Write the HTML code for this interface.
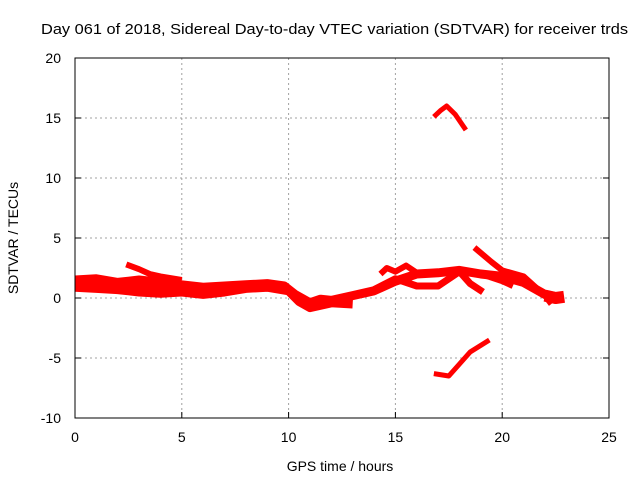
<!DOCTYPE html>
<html><head><meta charset="utf-8"><style>
body{margin:0;background:#fff;}
svg{display:block;font-family:"Liberation Sans",sans-serif;}
</style></head><body>
<svg id="chart" width="640" height="480">
<text x="41" y="34" textLength="587" lengthAdjust="spacingAndGlyphs" font-size="15">Day 061 of 2018, Sidereal Day-to-day VTEC variation (SDTVAR) for receiver trds</text>
<g id="grid"></g>
<g id="series"></g>
<rect x="75" y="58" width="534" height="360" fill="none" stroke="#000" stroke-width="1"/>
<g id="ticks"></g>
<text x="340" y="471" text-anchor="middle" font-size="14">GPS time / hours</text>
<text transform="translate(18,238) rotate(-90)" text-anchor="middle" font-size="14">SDTVAR / TECUs</text>
</svg>
<script>
const xTicks=[0,5,10,15,20,25];
const yTicks=[-10,-5,0,5,10,15,20];
const trackA=[[0,1.5],[1,1.6],[2,1.3],[3,1.5],[4,1.3],[5,1.1],[6,0.9],[7,1.0],[8,1.1],[9,1.2],[9.8,1.0],[10.3,0.3],[11,-0.4],[11.5,-0.1],[12,-0.2],[13,0.2],[14,0.6],[15,1.4],[16,2.0],[17,2.1],[18,2.3],[19,2.0],[20,1.8],[21,1.3],[22,0.3],[22.8,0]];
const trackB=[[0,0.9],[1,0.8],[2,0.7],[3,0.5],[4,0.4],[5,0.5],[6,0.3],[7,0.5],[8,0.8],[9,0.9],[10,0.6],[10.5,-0.3],[11,-0.8],[12,-0.4],[13,-0.5]];
const trackM=[[0,1.2],[2,1.1],[3,1.0],[4,0.8],[5,0.9],[6,0.6],[8,1.0],[9.5,1.0]];
const trackC=[[2.4,2.8],[3,2.4],[3.5,2.0],[4,1.8],[5,1.5]];
const trackD=[[14.3,2.0],[14.6,2.5],[15,2.2],[15.5,2.7],[16,2.1],[17,2.1],[18,2.4],[19,2.0],[20,1.4],[20.5,1.0]];
const trackE=[[18.7,4.2],[19.5,3.0],[20,2.3],[21,1.8],[21.5,1.0],[22,0.2],[22.3,-0.5]];
const trackF=[[14,0.7],[15,1.6],[16,1.0],[17,1.0],[18,2.2],[18.5,1.2],[19.1,0.5]];
const trackG=[[22,0.2],[22.5,0],[22.9,0.1]];
const arcTop=[[16.8,15.1],[17.1,15.6],[17.4,16.0],[17.8,15.3],[18.3,14.0]];
const arcBottom=[[16.8,-6.3],[17.5,-6.5],[18,-5.5],[18.5,-4.5],[19.4,-3.5]];
const x=v=>75+v*534/25;
const y=v=>298-v*12;
const NS="http://www.w3.org/2000/svg";
const grid=document.getElementById('grid'),ticks=document.getElementById('ticks'),ser=document.getElementById('series');
function mk(tag,attrs,parent){const e=document.createElementNS(NS,tag);for(const k in attrs)e.setAttribute(k,attrs[k]);parent.appendChild(e);return e;}
xTicks.forEach(t=>{
 if(t>0&&t<25){const l=mk('line',{x1:x(t),x2:x(t),y1:58,y2:418,stroke:'#a0a0a0','stroke-dasharray':'2,3'},grid);
 
 }
 const tk=mk('line',{x1:x(t),x2:x(t),y1:418,y2:412,stroke:'#000'},ticks);
 
 
 const tx=mk('text',{x:x(t),y:442,'text-anchor':'middle','font-size':14},ticks);tx.textContent=t;
 
 
});
yTicks.forEach(t=>{
 if(t>-10&&t<20){const l=mk('line',{x1:75,x2:609,y1:y(t),y2:y(t),stroke:'#a0a0a0','stroke-dasharray':'2,3'},grid);
 
 }
 const tk=mk('line',{x1:75,x2:81,y1:y(t),y2:y(t),stroke:'#000'},ticks);
 
 
 const tk2=mk('line',{x1:609,x2:603,y1:y(t),y2:y(t),stroke:'#000'},ticks);
 
 
 const tx=mk('text',{x:61,y:y(t)+5,'text-anchor':'end','font-size':14},ticks);tx.textContent=t;
 
 
});
[[trackA,9],[trackB,9],[trackM,9],[trackC,6],[trackD,6],[trackE,6],[trackF,7],[trackG,12],[arcTop,5],[arcBottom,5]].forEach(([tr,w])=>{
 const p=mk('polyline',{points:tr.map(d=>x(d[0])+','+y(d[1])).join(' '),fill:'none',stroke:'#ff0000','stroke-width':w,'stroke-linejoin':'round'},ser);
 
 
});
</script>
</body></html>
